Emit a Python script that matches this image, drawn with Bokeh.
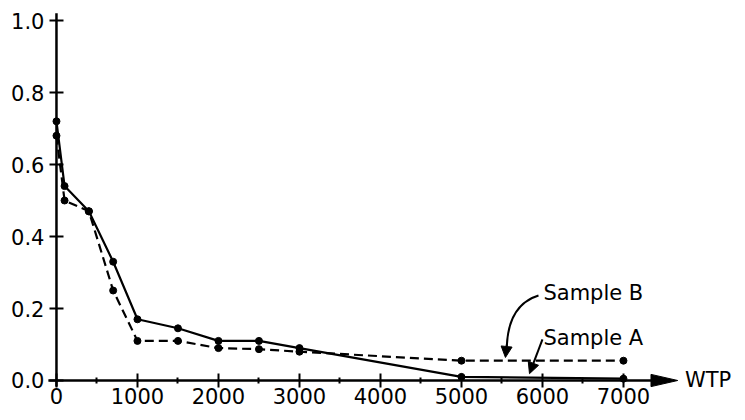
from bokeh.plotting import figure
from bokeh.models import Range1d, FixedTicker, PrintfTickFormatter, Arrow, NormalHead, Label
from bokeh.embed import file_html
from bokeh.resources import INLINE

# ---- data ----
wtp = [0, 100, 400, 700, 1000, 1500, 2000, 2500, 3000, 5000, 7000]
sample_a = [0.72, 0.54, 0.47, 0.33, 0.17, 0.145, 0.11, 0.11, 0.09, 0.01, 0.005]
sample_b = [0.68, 0.50, 0.47, 0.25, 0.11, 0.11, 0.09, 0.087, 0.08, 0.055, 0.055]
x_ticks = [0, 1000, 2000, 3000, 4000, 5000, 6000, 7000]
x_minor = [500, 1500, 2500, 3500, 4500, 5500, 6500]
y_ticks = [0.0, 0.2, 0.4, 0.6, 0.8, 1.0]

FONT = "DejaVu Sans"
X_AXIS_START, X_AXIS_END = -100, 7670
Y_AXIS_START, Y_AXIS_END = -0.017, 1.02

p = figure(width=737, height=412, output_backend="svg", toolbar_location=None,
           x_range=Range1d(-691, 8408), y_range=Range1d(-0.0889, 1.0556),
           min_border=0)
p.xgrid.visible = False
p.ygrid.visible = False
p.outline_line_color = None
p.background_fill_color = "white"

# axes at data zero
for ax in (p.xaxis, p.yaxis):
    ax.fixed_location = 0
    ax.axis_line_color = None
    ax.major_tick_line_color = "black"
    ax.major_tick_line_width = 2
    ax.major_tick_in = 7
    ax.major_tick_out = 7
    ax.major_label_text_font = FONT
    ax.major_label_text_font_size = "21px"
    ax.major_label_text_color = "black"

p.xaxis.ticker = FixedTicker(ticks=x_ticks, minor_ticks=x_minor)
p.xaxis.minor_tick_line_color = "black"
p.xaxis.minor_tick_line_width = 2
p.xaxis.minor_tick_in = 3
p.xaxis.minor_tick_out = 3
p.xaxis.formatter = PrintfTickFormatter(format="%d")
p.xaxis.major_label_standoff = 1

p.yaxis.ticker = FixedTicker(ticks=y_ticks)
p.yaxis.minor_tick_line_color = None
p.yaxis.formatter = PrintfTickFormatter(format="%.1f")
p.yaxis.major_label_standoff = 5

# axis lines
p.segment(x0=[X_AXIS_START], y0=[0], x1=[X_AXIS_END - 300], y1=[0], line_color="black", line_width=2.5)
p.segment(x0=[0], y0=[Y_AXIS_START], x1=[0], y1=[Y_AXIS_END], line_color="black", line_width=2.5)
head_len, head_half = 330, 0.017
p.patch(x=[X_AXIS_END - head_len, X_AXIS_END, X_AXIS_END - head_len],
        y=[head_half, 0, -head_half], fill_color="black", line_color="black")

# series
p.line(wtp, sample_a, line_color="black", line_width=2.2)
p.scatter(wtp, sample_a, size=7, fill_color="black", line_color="black")
p.line(wtp, sample_b, line_color="black", line_width=2.2, line_dash="9 5")
p.scatter(wtp, sample_b, size=7, fill_color="black", line_color="black")

# annotations
p.add_layout(Label(x=6012, y=0.244, text="Sample B", text_font=FONT, text_font_size="21px",
                   text_color="black", text_baseline="alphabetic"))
p.add_layout(Label(x=6012, y=0.117, text="Sample A", text_font=FONT, text_font_size="21px",
                   text_color="black", text_baseline="alphabetic"))
p.add_layout(Label(x=7760, y=0, text="WTP", text_font=FONT, text_font_size="21px",
                   text_color="black", text_baseline="middle"))

p.quadratic(x0=[5951], y0=[0.236], x1=[5560], y1=[0.095], cx=[5580], cy=[0.21],
            line_color="black", line_width=2)
p.add_layout(Arrow(x_start=5560, y_start=0.1, x_end=5543, y_end=0.064, line_width=2,
                   end=NormalHead(size=11, fill_color="black", line_color="black")))
p.add_layout(Arrow(x_start=6000, y_start=0.114, x_end=5840, y_end=0.019, line_width=2,
                   end=NormalHead(size=11, fill_color="black", line_color="black")))

open("out.html", "w").write(file_html(p, INLINE))
